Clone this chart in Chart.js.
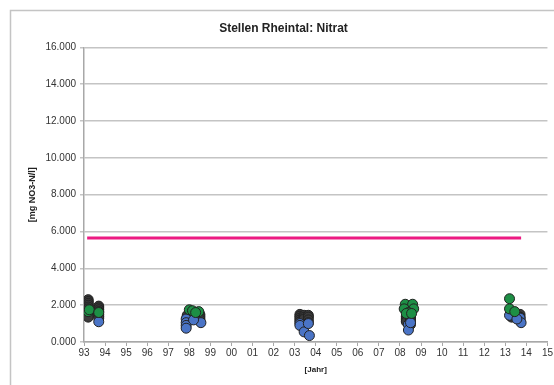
<!DOCTYPE html>
<html>
<head>
<meta charset="utf-8">
<script src="https://cdn.jsdelivr.net/npm/chart.js@4"></script>
<style>
  html, body { margin: 0; padding: 0; background: #fff; }
  #wrap { width: 554px; height: 385px; position: relative; }
</style>
</head>
<body>
<div id="wrap"><canvas id="nitratChart"></canvas></div>
<script>
// Sampling points, x = year (fractional), y = mg NO3-N/l
const grayX = [1993.2,1993.2,1993.2,1993.2,1993.2,1993.2,1993.2,1993.2,1993.2,
  1993.7,1993.7,1993.7,1993.7,1993.7,1993.7,1993.7,
  1997.9,1997.9,1998.1,1998.1,1998.1,1998.3,1998.3,1998.3,1998.5,1998.5,1998.5,1998.5,
  2003.25,2003.25,2003.25,2003.25,2003.25,2003.45,2003.45,2003.45,2003.65,2003.65,2003.65,2003.65,
  2008.3,2008.3,2008.3,2008.3,2008.5,2008.5,2008.5,2008.5,2008.5,
  2013.3,2013.3,2013.3,2013.7,2013.7,2013.7];
const grayY = [2.3,2.2,2.1,2.0,1.9,1.8,1.55,1.45,1.35,
  1.95,1.85,1.75,1.65,1.5,1.4,1.3,
  1.35,1.45,1.55,1.45,1.35,1.6,1.5,1.4,1.5,1.4,1.3,1.2,
  1.5,1.4,1.3,1.2,1.1,1.45,1.35,1.25,1.45,1.35,1.2,1.05,
  1.4,1.3,1.2,1.1,1.45,1.35,1.25,1.1,0.95,
  1.55,1.45,1.35,1.5,1.35,1.2];

const greenX = [1993.2,1993.25,1993.7, 1998.0,1998.15,1998.45,1998.3,
  2008.25,2008.6,2008.2,2008.65,2008.4,2008.3,2008.55, 2013.2,2013.2,2013.45];
const greenY = [1.65,1.75,1.6, 1.75,1.7,1.65,1.6,
  2.05,2.05,1.8,1.8,1.6,1.55,1.55, 2.35,1.8,1.65];

const blueX = [1993.7, 1997.85,1997.85,1997.85,1997.85,1998.55,1998.2,
  2003.25,2003.25,2003.45,2003.7,2003.65, 2008.4,2008.4,2008.5,
  2013.2,2013.7,2013.75,2013.55];
const blueY = [1.1, 1.25,1.05,0.9,0.75,1.05,1.2,
  1.0,0.9,0.55,0.35,1.0, 0.95,0.65,1.05,
  1.45,1.3,1.05,1.25];

const limitX = [1993.15, 2013.75];
const limitY = [5.65, 5.65];

const yTicks = [0,2,4,6,8,10,12,14,16];

function pts(xs, ys) { return xs.map((x, i) => ({ x: x, y: ys[i] })); }

const frame = {
  id: 'frame',
  beforeDraw(chart) {
    const c = chart.ctx;
    c.save();
    c.fillStyle = '#fff';
    c.fillRect(0, 0, chart.width, chart.height);
    c.strokeStyle = '#c4c4c4';
    c.lineWidth = 1.5;
    c.strokeRect(10.5, 10.5, 620, 420);
    c.restore();
  }
};

const FONT = "'Liberation Sans', Arial, sans-serif";
const marker = { pointRadius: 5, pointBorderWidth: 1, pointBorderColor: '#222', showLine: false };

new Chart(document.getElementById('nitratChart'), {
  type: 'scatter',
  data: {
    datasets: [
      Object.assign({ label: 'grün', data: pts(greenX, greenY), pointBackgroundColor: '#1d8f45' }, marker),
      Object.assign({ label: 'blau', data: pts(blueX, blueY), pointBackgroundColor: '#4a74c6' }, marker),
      Object.assign({ label: 'grau', data: pts(grayX, grayY), pointBackgroundColor: '#3b3b3b' }, marker),
      { label: 'Grenze', data: pts(limitX, limitY), showLine: true, borderColor: '#ec1a82',
        borderWidth: 3, pointRadius: 0 }
    ]
  },
  options: {
    responsive: true,
    maintainAspectRatio: false,
    animation: false,
    layout: { padding: { left: 18, right: 5, top: 0, bottom: 8 } },
    plugins: {
      legend: { display: false },
      tooltip: { enabled: false },
      title: {
        display: true,
        text: 'Stellen Rheintal: Nitrat',
        color: '#222',
        font: { family: FONT, size: 12, weight: 'bold' },
        padding: { top: 21, bottom: 12 }
      }
    },
    scales: {
      x: {
        type: 'linear',
        min: 1993, max: 2015,
        afterFit(s) { s.height = 35; },
        afterBuildTicks(s) {
          s.ticks = [];
          for (let y = 1993; y <= 2015; y++) s.ticks.push({ value: y });
        },
        ticks: {
          color: '#333', font: { family: FONT, size: 10 }, padding: 1, maxRotation: 0, autoSkip: false,
          callback: v => String(v).slice(2)
        },
        grid: { drawOnChartArea: false, color: '#a8a8a8', tickLength: 4 },
        border: { color: '#a8a8a8', width: 1.5 },
        title: { display: true, text: '[Jahr]', color: '#222',
          font: { family: FONT, size: 8, weight: 'bold' }, padding: { top: 2, bottom: 2 } }
      },
      y: {
        min: 0, max: 16,
        afterFit(s) { s.width = 66; },
        afterBuildTicks(s) { s.ticks = yTicks.map(v => ({ value: v })); },
        ticks: {
          color: '#333', font: { family: FONT, size: 10 }, padding: 4,
          callback: v => v.toFixed(3)
        },
        grid: { color: '#c4c4c4', lineWidth: 1.5, tickLength: 4 },
        border: { color: '#a8a8a8', width: 1.5 },
        title: { display: true, text: '[mg NO3-N/l]', color: '#222',
          font: { family: FONT, size: 9, weight: 'bold' }, padding: { top: 9, bottom: 0 } }
      }
    }
  },
  plugins: [frame]
});
</script>
</body>
</html>
